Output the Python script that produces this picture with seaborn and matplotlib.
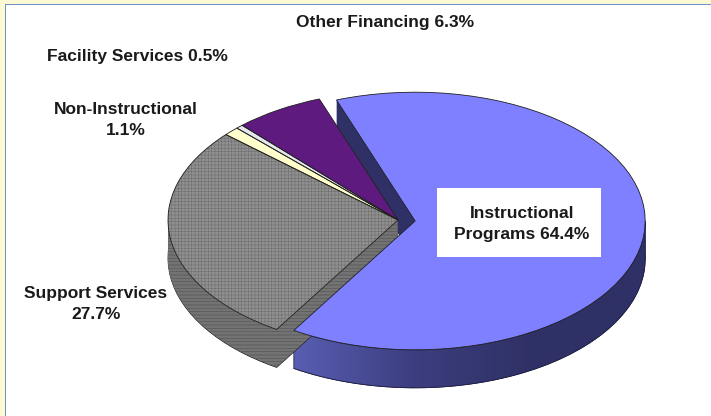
# Pie "3D" de gastos por função: camadas empilhadas de ax.pie achatadas pelos limites do eixo
import numpy as np
import matplotlib
matplotlib.use('Agg')
import matplotlib.pyplot as plt
import seaborn as sns
from matplotlib.colors import LinearSegmentedColormap
from matplotlib.patches import Polygon, Rectangle

categorias = ['Instructional Programs', 'Support Services', 'Non-Instructional',
              'Facility Services', 'Other Financing']
valores = [64.4, 27.7, 1.1, 0.5, 6.3]
explode_frac = [0.075, 0, 0, 0, 0]
rotulos = ['Instructional\nPrograms 64.4%', 'Support Services\n27.7%', 'Non-Instructional\n1.1%',
           'Facility Services 0.5%', 'Other Financing 6.3%']

cores_topo = ['#7f80ff', '#8f8f8f', '#ffffcc', '#e6e6ee', '#5f1a80']
cores_lado = ['#2f3166', '#737373', '#8e8e5e', '#8c8c90', '#3a1050']

sns.set_theme(style='white')
plt.rcParams['font.family'] = ['Liberation Sans', 'DejaVu Sans']
plt.rcParams['hatch.linewidth'] = 0.35

W, H = 711, 416
RAIO = 230
ACHAT = 0.56
CX, CY = 398, 220
PROF = 38 / ACHAT
inicio = 110

fig = plt.figure(figsize=(W / 100, H / 100), dpi=100, facecolor='white')
ax = fig.add_axes([0, 0, 1, 1])


def desenha(cores, dy=0, z=None, **kw):
    # explode do pie vem em unidades do eixo, por isso a multiplicação pelo raio
    wed, _ = ax.pie(valores, radius=RAIO, colors=cores, startangle=inicio, counterclock=False,
                    explode=[e * RAIO for e in explode_frac], center=(0, dy), wedgeprops=kw)
    for i, w in enumerate(wed):
        w.set_zorder(1 if i == 0 else 2)
        if z is not None:
            w.set_zorder(z if i == 0 else z - 1)
    return wed


# parede lateral: do fundo para cima
passos = np.arange(PROF, 0, -1.0)
for k, d in enumerate(passos):
    wed = desenha(cores_lado, dy=-d, linewidth=0.6 if k == 0 else 0,
                  edgecolor='#222222' if k == 0 else 'none')
    if k > 0:
        wed[1].set_edgecolor('#4a4a4a')
        wed[1].set_hatch('-----')
        wed[1].set_linewidth(0)

# gradiente da parede da fatia azul
ang_fim = inicio - valores[0] * 3.6
ang_meio = np.deg2rad((inicio + ang_fim) / 2)
ox = explode_frac[0] * RAIO * np.cos(ang_meio)
oy = explode_frac[0] * RAIO * np.sin(ang_meio)
th = np.deg2rad(np.linspace(ang_fim, 0, 80))
xa = ox + RAIO * np.cos(th)
ya = oy + RAIO * np.sin(th)
poly = np.column_stack([np.r_[xa, xa[::-1]], np.r_[ya, ya[::-1] - PROF]])
cmap = LinearSegmentedColormap.from_list('lado', ['#5a5eb2', '#3c3e80', '#2f3166', '#2f3166'])
img = ax.imshow(np.linspace(0, 1, 256)[None, :], cmap=cmap, aspect='auto', zorder=1.5,
                extent=(xa.min(), xa.max(), ya.min() - PROF, ya.max()))
contorno = Polygon(poly, closed=True, facecolor='none', edgecolor='#20204a', linewidth=0.6, zorder=1.6)
ax.add_patch(contorno)
img.set_clip_path(contorno)

# superfície de cima
topo = desenha(cores_topo, z=4, linewidth=0)
topo[1].set_edgecolor('#6c6c6c')
topo[1].set_hatch('+++++')
desenha(['none'] * 5, z=5, linewidth=0.6, edgecolor='#222222')

ax.set_aspect('auto')
ax.set_xlim(-CX, W - CX)
ax.set_ylim((CY - H) / ACHAT, CY / ACHAT)
ax.axis('off')

# moldura do slide
fig.add_artist(Rectangle((0, 0), 5 / W, 1, transform=fig.transFigure, color='#fdf9d3', lw=0))
fig.add_artist(Rectangle((0, 1 - 4 / H), 1, 4 / H, transform=fig.transFigure, color='#fdf9d3', lw=0))
fig.add_artist(Rectangle((5 / W, 0), 1.2 / W, 1 - 4 / H, transform=fig.transFigure, color='#6f93cf', lw=0))
fig.add_artist(Rectangle((5 / W, 1 - 5.2 / H), 1 - 5 / W, 1.2 / H, transform=fig.transFigure, color='#6f93cf', lw=0))

# caixa branca e rótulos
fig.add_artist(Rectangle((437 / W, 1 - 257 / H), 164 / W, 69 / H, transform=fig.transFigure,
                         color='white', lw=0, zorder=6))
pos_rotulos = [(522, 224), (96, 304), (126, 120), (137, 56), (385, 22)]
for txt, (px, py) in zip(rotulos, pos_rotulos):
    fig.text(px / W, 1 - py / H, txt, ha='center', va='center', fontsize=12.5,
             fontweight='bold', color='#1a1a1a', linespacing=1.45, zorder=7)

fig.savefig('out.png', dpi=100)
